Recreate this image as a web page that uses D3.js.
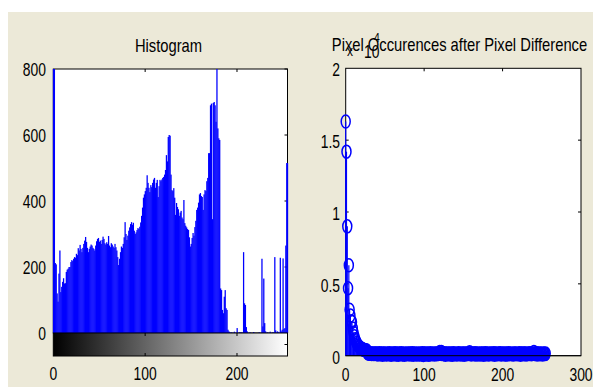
<!DOCTYPE html>
<html>
<head>
<meta charset="utf-8">
<script src="https://cdn.jsdelivr.net/npm/d3@7"></script>
<style>
body { margin: 0; background: #fff; }
svg { display: block; }
</style>
</head>
<body>
<svg id="chart" width="593" height="387"></svg>
<script>
// imhist counts, one per grey level 0..255 (bins 0,1 and 178 run off the top)
const histCounts = [
1500,1000,212,208,120,95,180,250,124,140,
155,166,150,151,185,192,195,200,200,215,
221,218,225,230,228,240,236,257,250,267,
255,245,258,270,280,291,276,258,245,255,
262,268,265,258,255,250,265,278,285,288,
276,280,270,282,292,285,272,268,275,270,
294,265,260,272,268,262,258,270,260,250,
230,206,225,245,262,258,270,290,336,300,
282,295,310,320,330,336,328,334,310,300,
305,312,318,315,322,335,355,380,410,420,
430,440,478,455,440,427,448,442,455,465,
470,440,455,464,412,445,464,460,465,470,
473,480,494,539,520,594,600,598,480,433,
430,439,410,358,394,382,375,355,365,370,
350,345,403,333,325,320,315,312,290,262,
270,288,303,295,321,340,373,380,395,420,
424,415,412,373,420,433,430,460,470,545,
545,690,695,345,697,700,690,640,830,620,
590,585,135,130,70,60,110,130,75,70,
10,5,3,0,2,0,0,4,0,0,
15,0,0,3,0,2,0,245,90,85,
18,5,0,0,2,0,0,0,3,0,
0,0,0,0,2,0,0,225,20,165,
30,5,0,2,0,0,4,0,0,3,
0,230,8,0,5,2,0,228,5,10,
226,12,15,265,515,515
];
const histXTicks = [0, 100, 200];
const histYTicks = [0, 200, 400, 600, 800];

// stem values, index 0..255 = difference value
const diffCounts = [
16300,14200,9000,4700,6300,3200,2800,2400,2350,1900,
1600,1350,1150,1000,880,780,700,640,590,540,
500,470,440,420,400,385,370,355,170,150,
160,140,165,120,150,135,110,160,145,125,
150,90,140,165,100,130,155,70,145,120,
160,110,80,150,135,95,165,125,60,140,
155,105,130,170,85,120,145,60,150,110,
135,165,90,125,150,70,140,115,160,95,
130,155,80,145,120,165,60,135,150,100,
125,160,75,140,115,150,90,130,165,55,
145,120,160,85,135,150,65,125,170,100,
140,115,155,80,130,160,95,145,120,165,
250,140,260,110,150,125,165,70,140,155,
95,130,160,85,145,120,60,165,135,100,
150,125,80,140,165,110,135,90,155,120,
145,70,160,130,105,150,125,165,245,140,
85,135,155,110,140,165,75,130,150,100,
125,160,90,145,120,155,65,140,165,105,
135,150,80,125,160,110,145,95,130,165,
70,140,155,120,100,150,135,165,85,125,
145,110,160,90,135,150,75,130,165,115,
140,100,155,125,80,145,160,110,135,95,
150,120,165,70,140,130,155,100,145,160,
85,135,120,150,110,165,140,95,130,155,
250,120,145,165,80,135,150,105,160,125,
140,90,155,130,110,145
];
const diffXTicks = [0, 100, 200, 300];
const diffYTicks = [0, 5000, 10000, 15000, 20000];
const diffYLabels = ["0", "0.5", "1", "1.5", "2"];

const titles = ["Histogram", "Pixel Occurences after Pixel Difference"];

const blue = "#0000ff";
const svg = d3.select("#chart");

// figure background (the white strip at top/left is part of the screenshot)
svg.append("rect")
    .attr("x", 8).attr("y", 12)
    .attr("width", 585).attr("height", 375)
    .attr("fill", "#ece9d8");

function label(g, x, y, str, size, sx, anchor) {
    g.append("text")
        .attr("transform", `translate(${x},${y}) scale(${sx},1)`)
        .attr("text-anchor", anchor)
        .attr("font-family", "'Liberation Sans', Arial, sans-serif")
        .attr("font-size", size)
        .attr("fill", "#000")
        .text(str);
}

function tick(g, x1, y1, x2, y2) {
    g.append("line")
        .attr("x1", x1).attr("y1", y1)
        .attr("x2", x2).attr("y2", y2)
        .attr("stroke", "#000").attr("stroke-width", 1);
}

const defs = svg.append("defs");

// ---------- left: histogram ----------
function draw_histogram() {
    const xL = d3.scaleLinear().domain([0, 255]).range([53.3, 287.5]);
    const yL = d3.scaleLinear().domain([0, 800]).range([333, 69]);
    const g = svg.append("g");
    const [x0, x1] = xL.range();
    const [yb, yt] = yL.range();
    const step = xL(1) - xL(0);

    g.append("rect")
        .attr("x", x0).attr("y", yt)
        .attr("width", x1 - x0).attr("height", yb - yt)
        .attr("fill", "#fff").attr("stroke", "#000");

    histXTicks.filter(t => t > 0).forEach(t => tick(g, xL(t), yt, xL(t), yt + 3));
    histYTicks.filter(t => t > 0).forEach(t => tick(g, x1, yL(t), x1 - 3, yL(t)));

    defs.append("clipPath").attr("id", "histClip")
        .append("rect")
        .attr("x", x0 - 1).attr("y", yt)
        .attr("width", x1 - x0 + 2).attr("height", yb - yt);

    // one solid bar per grey level; slightly wider than a bin so they merge
    g.append("g")
        .attr("clip-path", "url(#histClip)")
        .selectAll("rect")
        .data(histCounts)
        .enter().append("rect")
        .attr("x", (d, i) => xL(i) - step / 2)
        .attr("width", step + 0.35)
        .attr("y", d => yL(d))
        .attr("height", d => yL(0) - yL(d))
        .attr("fill", blue);

    // grey-level colour bar under the histogram
    const grad = defs.append("linearGradient").attr("id", "grayBar")
        .attr("x1", "0%").attr("x2", "100%").attr("y1", "0%").attr("y2", "0%");
    grad.append("stop").attr("offset", "0%").attr("stop-color", "#000");
    grad.append("stop").attr("offset", "100%").attr("stop-color", "#fff");

    const cbTop = yb, cbBottom = 356;
    g.append("rect")
        .attr("x", x0).attr("y", cbTop)
        .attr("width", x1 - x0).attr("height", cbBottom - cbTop)
        .attr("fill", "url(#grayBar)").attr("stroke", "#000");
    histXTicks.filter(t => t > 0).forEach(t => {
        tick(g, xL(t), cbTop, xL(t), cbTop + 3);
        tick(g, xL(t), cbBottom, xL(t), cbBottom - 3);
    });
    tick(g, x1, 344.5, x1 - 3, 344.5);

    histXTicks.forEach(t => label(g, xL(t), 380, t, 19, 0.73, "middle"));
    histYTicks.forEach(t => label(g, 46, yL(t) + 7, t, 19, 0.73, "end"));

    label(g, 168.5, 51.5, titles[0], 18, 0.82, "middle");
}

// ---------- right: stem plot of pixel differences ----------
function draw_stems() {
    const xR = d3.scaleLinear().domain([0, 300]).range([345.7, 581]);
    const yR = d3.scaleLinear().domain([0, 20000]).range([355.7, 68.3]);
    const g = svg.append("g");
    const [x0, x1] = xR.range();
    const [yb, yt] = yR.range();

    g.append("rect")
        .attr("x", x0).attr("y", yt)
        .attr("width", x1 - x0).attr("height", yb - yt)
        .attr("fill", "#fff").attr("stroke", "#000");

    diffXTicks.filter(t => t > 0 && t < 300).forEach(t => {
        tick(g, xR(t), yt, xR(t), yt + 3);
        tick(g, xR(t), yb, xR(t), yb - 3);
    });
    diffYTicks.filter(t => t > 0 && t < 20000).forEach(t => {
        tick(g, x0, yR(t), x0 + 3, yR(t));
        tick(g, x1, yR(t), x1 - 3, yR(t));
    });

    const pts = diffCounts.map((v, i) => ({ x: i, y: v }));

    g.append("g").selectAll("line")
        .data(pts)
        .enter().append("line")
        .attr("x1", d => xR(d.x)).attr("x2", d => xR(d.x))
        .attr("y1", yR(0)).attr("y2", d => yR(d.y))
        .attr("stroke", blue).attr("stroke-width", 1.2);

    g.append("g").selectAll("ellipse")
        .data(pts)
        .enter().append("ellipse")
        .attr("cx", d => xR(d.x))
        .attr("cy", d => yR(d.y))
        .attr("rx", 4.5).attr("ry", 6.5)
        .attr("fill", "none")
        .attr("stroke", blue).attr("stroke-width", 1.5);

    // stem baseline
    tick(g, x0, yR(0), x1, yR(0));

    diffXTicks.forEach(t => label(g, xR(t), 381, t, 19, 0.73, "middle"));
    diffYTicks.forEach((t, i) => label(g, 340, yR(t) + 8, diffYLabels[i], 19, 0.73, "end"));

    label(g, 459.5, 51, titles[1], 18, 0.82, "middle");

    // exponent marker, drawn over the title as in the original figure
    label(g, 347, 56, "x", 15, 0.8, "start");
    label(g, 364, 58, "10", 19, 0.73, "start");
    label(g, 374, 42, "4", 13, 0.8, "start");
}

draw_histogram();
draw_stems();
</script>
</body>
</html>
